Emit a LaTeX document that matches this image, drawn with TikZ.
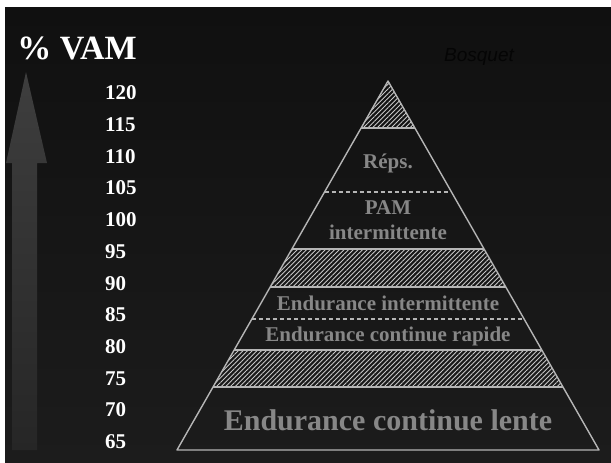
\documentclass[tikz,border=0pt]{standalone}
\usepackage{fontspec}
\setmainfont{Liberation Serif}
\newfontfamily\signfont{Liberation Sans}
\usetikzlibrary{positioning,calc}
\usetikzlibrary{patterns.meta}

\definecolor{bgtop}{HTML}{101010}
\definecolor{bgbot}{HTML}{1C1C1C}
\definecolor{arrowtop}{HTML}{3E3E3E}
\definecolor{arrowbot}{HTML}{262626}
\definecolor{edgegray}{HTML}{B5B5B5}
\definecolor{labelgray}{HTML}{878787}
\definecolor{hatchgray}{HTML}{C8C8C8}
\definecolor{signgray}{HTML}{050505}

\begin{document}
\begin{tikzpicture}[x = 1pt, y = -1pt, line join = round]
\tikzstyle{level}=[
  text = labelgray,
  font = \bfseries\fontsize{21}{25}\selectfont,
  align = center
]
\tikzstyle{pct}=[
  text = white,
  font = \bfseries\fontsize{21}{25}\selectfont,
  anchor = west,
  inner sep = 0pt
]
\tikzstyle{hatch}=[
  pattern = {Lines[angle = 45, distance = 3.3pt, line width = 0.9pt]},
  pattern color = hatchgray
]
\tikzstyle{band}=[draw = edgegray, line width = 1.4pt]

% page and dark slide
\fill[white] (0,0) rectangle (611,463);
\shade[top color = bgtop, bottom color = bgbot] (5,7) rectangle (611,463);

% arrow on the left
\shade[top color = arrowtop, bottom color = arrowbot]
  (26,72) -- (47,163) -- (37,163) -- (37,450) -- (12,450) -- (12,163) -- (6,163) -- cycle;

\node[text = white, font = \bfseries\fontsize{34}{40}\selectfont] (vam) at (77,48) {\% VAM};
\foreach \v [count = \i from 0] in {120,115,...,65}
  \node[pct] (p\v) at (105,{93+31.7*\i}) {\v};

\node[font = \signfont\itshape\fontsize{19}{22}\selectfont, text = signgray] (sign) at (479,57) {Bosquet};

% pyramid
\coordinate (top) at (388,81);
\coordinate (bl) at (177,450);
\coordinate (br) at (599,450);

\foreach \a/\b in {0/0.1274, 0.4553/0.5583, 0.729/0.8293}
  \fill[hatch] ($(top)!\a!(bl)$) -- ($(top)!\a!(br)$) -- ($(top)!\b!(br)$) -- ($(top)!\b!(bl)$) -- cycle;

\foreach \t in {0.1274, 0.4553, 0.5583, 0.729, 0.8293}
  \draw[band] ($(top)!\t!(bl)$) -- ($(top)!\t!(br)$);
\foreach \t in {0.3008, 0.645}
  \draw[band, line width = 1.1pt, dash pattern = on 4pt off 3pt] ($(top)!\t!(bl)$) -- ($(top)!\t!(br)$);
\draw[band] (top) -- (bl) -- (br) -- cycle;

\node[level] (reps) at (388,163) {Réps.};
\node[level] (pam) at (388,220) {PAM\\intermittente};
\node[level] (ei) at (388,303) {Endurance intermittente};
\node[level] (ecr) at (388,336) {Endurance continue rapide};
\node[level, font = \bfseries\fontsize{30}{34}\selectfont] (ecl) at (388,420) {Endurance continue lente};
\end{tikzpicture}
\end{document}
